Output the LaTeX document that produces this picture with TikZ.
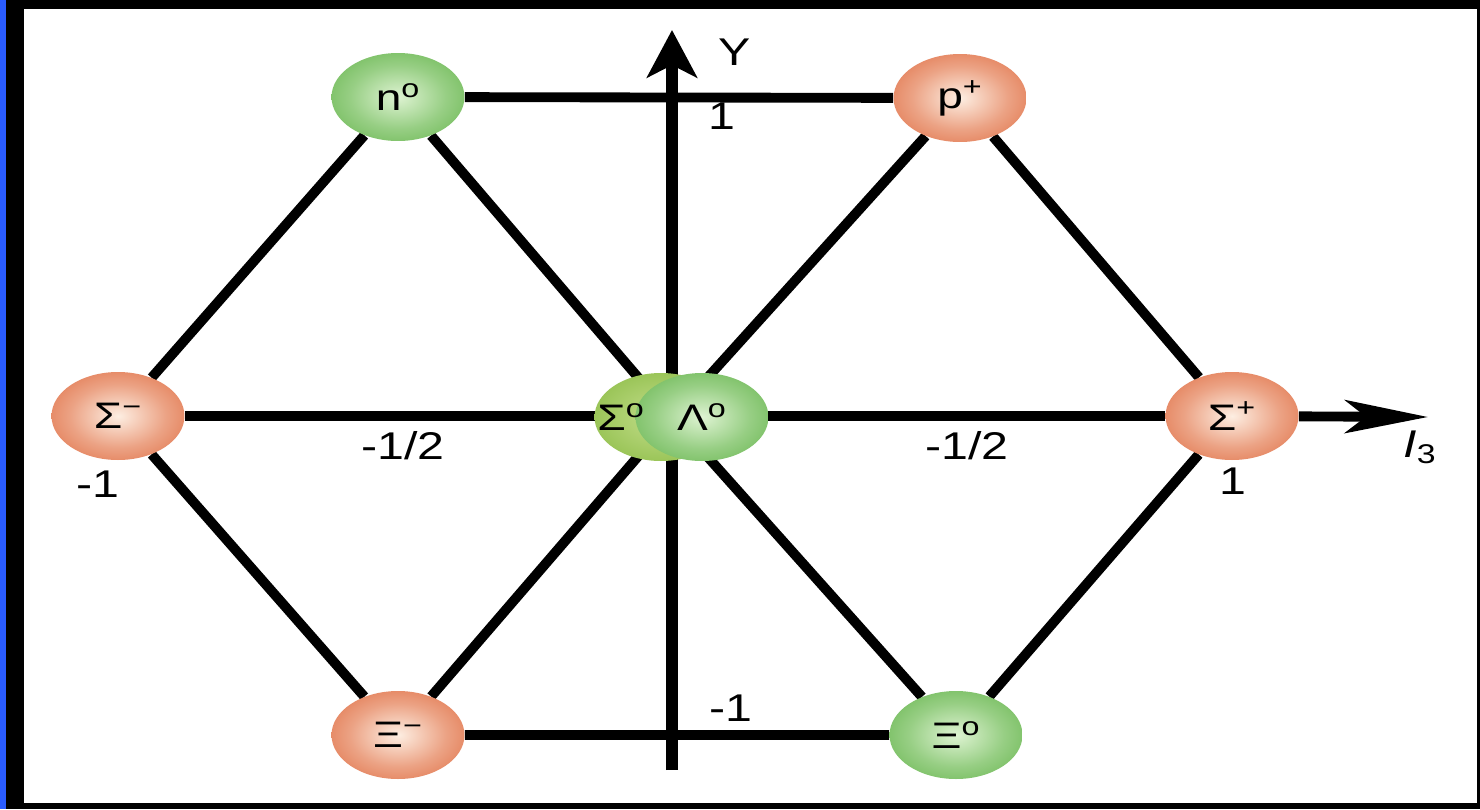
\documentclass[tikz,border=0pt]{standalone}
\usepackage{fontspec}
\setmainfont{Liberation Sans}[FakeStretch=1.25]
\usetikzlibrary{shapes.geometric,arrows.meta,backgrounds}

\definecolor{orout}{RGB}{224,112,70}
\definecolor{orin}{RGB}{253,238,226}
\definecolor{grout}{RGB}{104,182,80}
\definecolor{grin}{RGB}{222,243,210}
\definecolor{lgout}{RGB}{140,188,70}
\definecolor{lgin}{RGB}{196,222,140}
\definecolor{slideblue}{RGB}{42,92,255}

\pgfdeclareradialshading{orball}{\pgfpoint{0bp}{0bp}}{color(0bp)=(orin); color(18bp)=(orin!40!orout); color(34bp)=(orout); color(50bp)=(orout)}
\pgfdeclareradialshading{grball}{\pgfpoint{0bp}{0bp}}{color(0bp)=(grin); color(18bp)=(grin!40!grout); color(34bp)=(grout); color(50bp)=(grout)}
\pgfdeclareradialshading{lgball}{\pgfpoint{0bp}{0bp}}{color(0bp)=(lgin); color(34bp)=(lgout); color(50bp)=(lgout)}

\begin{document}
\begin{tikzpicture}[x=0.02cm,y=-0.02cm,
    particle/.style={ellipse,minimum width=2.66cm,minimum height=1.76cm,inner sep=0pt,
      font=\fontsize{21}{25}\selectfont},
    orange/.style={particle,shading=orball},
    green/.style={particle,shading=grball},
    lightgreen/.style={particle,shading=lgball},
    edge/.style={line width=5.6pt},
    num/.style={font=\fontsize{22}{26}\selectfont}]
  \useasboundingbox (0,0) rectangle (1480,809);

  % octet
  \node[green] (n0) at (398,97) {n\textsuperscript{o}};
  \node[orange] (pp) at (960,98) {p\textsuperscript{+}};
  \node[orange] (Sm) at (118,416) {Σ\textsuperscript{−}};
  \node[orange] (Sp) at (1232,416) {Σ\textsuperscript{+}};
  \node[lightgreen] (S0) at (661,417) {};
  \node[green] (L0) at (702,417) {Λ\textsuperscript{o}};
  \node[font=\fontsize{21}{25}\selectfont] (S0lbl) at (621,417) {Σ\textsuperscript{o}};
  \node[orange] (Xm) at (398,735) {Ξ\textsuperscript{−}};
  \node[green] (X0) at (956,735) {Ξ\textsuperscript{o}};
  \coordinate (c) at (672,417);
  \coordinate (ybot) at (672,770);
  \coordinate (ytop) at (672,30);
  \coordinate (xtip) at (1428,417);

  % axis labels
  \node[num] (ylbl) at (735,52) {Y};
  \node[num] (yone) at (722,116) {1};
  \node[num] (ymone) at (731,708) {-1};
  \node[num] (xhl) at (403,446) {-1/2};
  \node[num] (xhr) at (967,446) {-1/2};
  \node[num] (xmone) at (98,484) {-1};
  \node[num] (xone) at (1233,481) {1};
  \node[num] (i3) at (1420,447) {\textit{I}\textsubscript{3}};

  \begin{scope}[on background layer]
    \fill (0,0) rectangle (1480,809);
    \fill[slideblue] (0,0) rectangle (6,809);
    \fill[white] (24,9) rectangle (1477,803);
    \draw[edge] (n0) -- (pp) (Xm) -- (X0);
    \draw[edge] (n0) -- (Sm) -- (Xm);
    \draw[edge] (pp) -- (Sp) -- (X0);
    \draw[edge] (n0) -- (c) -- (X0);
    \draw[edge] (pp) -- (c) -- (Xm);
    \draw[edge] (Sm) -- (Sp);
    \draw[edge,-{Stealth[length=1.66cm,width=0.66cm,inset=0.42cm]}] (Sp) -- (xtip);
    \draw[line width=7.2pt,-{Stealth[length=0.95cm,width=1cm,inset=0.25cm]}] (ybot) -- (ytop);
  \end{scope}
\end{tikzpicture}
\end{document}
